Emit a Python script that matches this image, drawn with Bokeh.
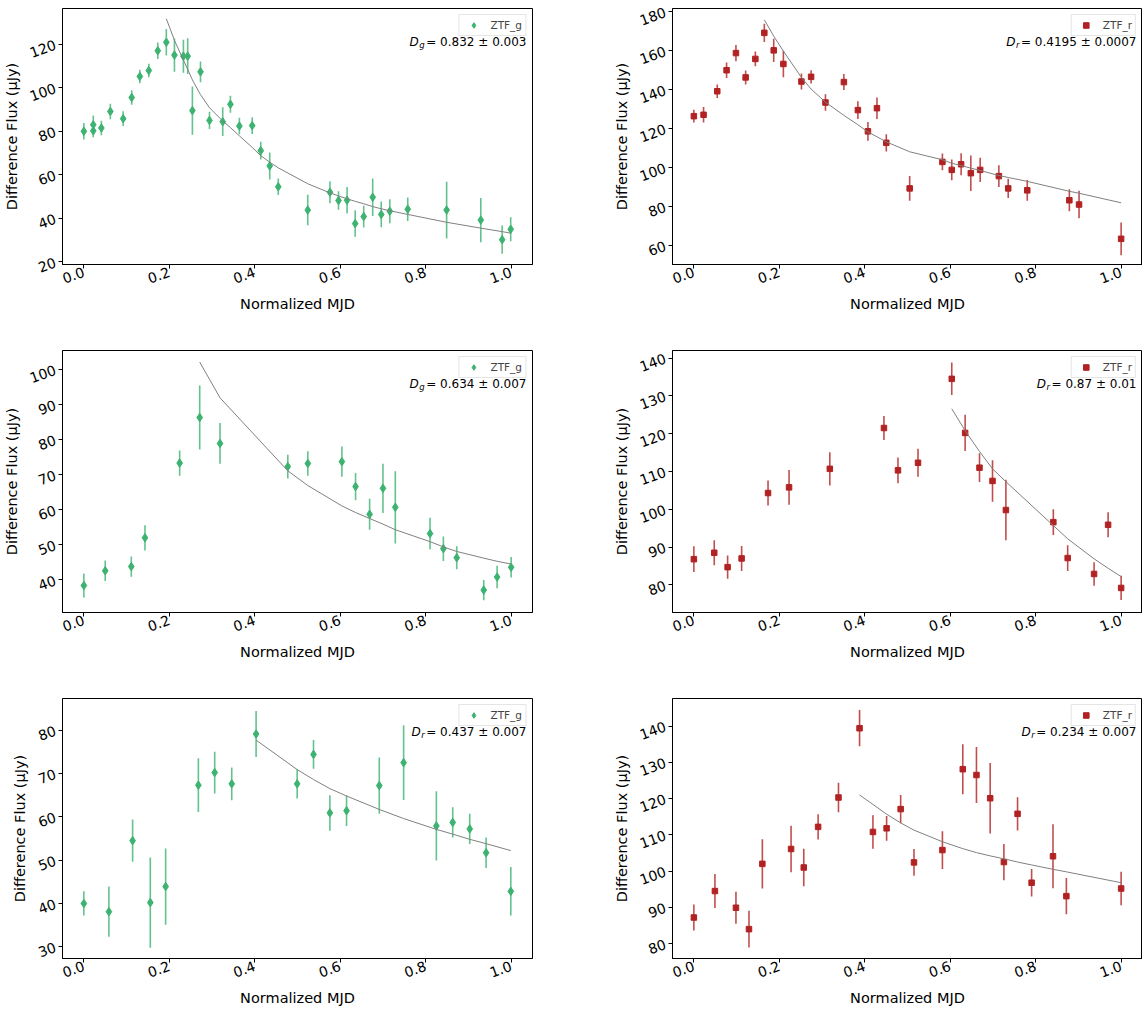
import numpy as np
from bokeh.plotting import figure
from bokeh.models import (FixedTicker, Label, Legend, LegendItem, Range1d,
                          PrintfTickFormatter)
from bokeh.layouts import column, row
from bokeh.embed import file_html
from bokeh.resources import INLINE

# ---------------- data ----------------
x_ticks = [0.0, 0.2, 0.4, 0.6, 0.8, 1.0]
x_label = "Normalized MJD"
y_label = "Difference Flux (\u03bcJy)"

# Panel 1 : ZTF_g
g1_x = [0.000, 0.022, 0.022, 0.041, 0.062, 0.092, 0.112, 0.131, 0.152, 0.173,
        0.193, 0.212, 0.233, 0.243, 0.254, 0.273, 0.294, 0.325, 0.343, 0.364,
        0.394, 0.414, 0.435, 0.455, 0.524, 0.576, 0.596, 0.616, 0.635, 0.655,
        0.676, 0.696, 0.716, 0.758, 0.849, 0.929, 0.979, 0.999]
g1_y = [80.0, 80.2, 83.0, 81.5, 89.1, 85.8, 95.5, 105.2, 107.9, 117.0,
        120.9, 115.0, 114.5, 114.5, 89.5, 107.3, 85.0, 84.4, 92.4, 82.4,
        82.6, 71.1, 64.1, 54.5, 43.8, 52.0, 48.2, 48.3, 37.6, 40.8,
        49.7, 41.8, 43.3, 44.2, 43.8, 39.2, 30.2, 35.0]
g1_err = [3.8, 3.0, 4.2, 3.3, 3.6, 3.4, 3.3, 3.1, 3.1, 3.8,
          6.1, 7.6, 7.6, 8.2, 11.1, 4.8, 4.0, 6.6, 3.9, 3.8,
          3.9, 4.1, 6.2, 3.8, 7.0, 5.1, 4.2, 6.1, 6.1, 5.0,
          8.6, 5.9, 5.5, 5.4, 13.0, 10.2, 6.5, 5.5]
g1_fit_from = 10
g1_fit = [131.7, 121.8, 112.7, 108.5, 103.6, 96.8, 90.8, 84.7, 81.7, 77.9,
          72.6, 68.8, 65.8, 63.2, 55.9, 51.7, 50.3, 49.0, 47.8, 46.7,
          45.4, 44.4, 43.5, 41.8, 38.2, 35.5, 33.9, 33.2]
g1_ticks = [20, 40, 60, 80, 100, 120]

# Panel 2 : ZTF_r
r1_x = [0.0, 0.0227, 0.0547, 0.0766, 0.0985, 0.1212, 0.1439, 0.1649, 0.1869, 0.2095,
        0.2518, 0.2744, 0.3080, 0.3511, 0.3839, 0.4074, 0.4285, 0.4504, 0.5051, 0.5817,
        0.6036, 0.6255, 0.6482, 0.6701, 0.7138, 0.7357, 0.7803, 0.8788, 0.9015, 1.0]
r1_y = [126.4, 127.1, 139.2, 150.0, 158.8, 146.3, 155.8, 169.2, 160.2, 153.2,
        144.2, 146.6, 133.4, 143.9, 129.5, 118.6, 130.5, 112.7, 89.3, 102.9,
        98.8, 101.7, 97.1, 98.8, 95.6, 89.3, 88.3, 83.2, 81.0, 63.4]
r1_err = [3.3, 4.0, 3.5, 4.0, 4.2, 3.6, 3.8, 4.7, 6.0, 6.8,
          4.1, 3.4, 4.2, 4.1, 4.6, 4.8, 5.5, 4.4, 6.4, 4.3,
          5.3, 5.7, 9.1, 6.2, 5.6, 4.9, 5.3, 5.6, 7.1, 8.4]
r1_fit_from = 7
r1_fit = [175.9, 167.5, 159.8, 146.3, 140.3, 133.6, 126.8, 122.0, 118.3, 115.8,
          113.2, 108.1, 104.0, 102.2, 101.0, 99.7, 98.5, 95.9, 94.9, 92.9,
          87.8, 86.8, 81.9]
r1_ticks = [60, 80, 100, 120, 140, 160, 180]

# Panel 3 : ZTF_g
g2_x = [0.0, 0.050, 0.111, 0.143, 0.2242, 0.2711, 0.3187, 0.4773, 0.5242, 0.6039,
        0.6359, 0.6688, 0.7000, 0.7289, 0.8102, 0.8414, 0.8727, 0.9359, 0.9672, 1.0]
g2_y = [38.4, 42.6, 43.8, 52.0, 73.3, 86.3, 78.9, 72.3, 73.2, 73.7,
        66.6, 58.7, 66.1, 60.7, 53.2, 48.9, 46.3, 37.1, 40.8, 43.6]
g2_err = [3.4, 2.9, 2.9, 3.6, 3.6, 9.1, 5.8, 3.4, 3.5, 4.3,
          3.9, 4.4, 7.0, 10.3, 4.5, 3.5, 3.3, 2.9, 3.2, 2.9]
g2_fit_from = 5
g2_fit = [102.1, 91.9, 71.1, 66.9, 61.1, 59.2, 57.5, 55.9, 54.3, 50.9,
          49.4, 48.1, 46.2, 45.3, 44.5]
g2_ticks = [40, 50, 60, 70, 80, 90, 100]

# Panel 4 : ZTF_r
r2_x = [0.0, 0.0477, 0.0790, 0.1118, 0.1736, 0.2228, 0.3182, 0.4449, 0.4777, 0.5246,
        0.6036, 0.6349, 0.6685, 0.6990, 0.7303, 0.8413, 0.8749, 0.9367, 0.9695, 1.0]
r2_y = [86.8, 88.5, 84.7, 87.0, 104.3, 105.8, 110.7, 121.5, 110.3, 112.3,
        134.5, 120.2, 111.0, 107.5, 99.8, 96.6, 87.1, 82.9, 95.9, 79.2]
r2_err = [3.4, 3.3, 3.1, 3.3, 3.3, 4.6, 4.4, 3.2, 3.4, 3.7,
          4.3, 4.8, 3.8, 5.5, 8.0, 3.4, 3.4, 3.1, 3.3, 3.2]
r2_fit_from = 10
r2_fit = [126.6, 120.8, 115.3, 110.7, 107.3, 95.7, 92.2, 86.9, 84.4, 82.2]
r2_ticks = [80, 90, 100, 110, 120, 130, 140]

# Panel 5 : ZTF_g
g3_x = [0.0, 0.0586, 0.1141, 0.1555, 0.1914, 0.2680, 0.3062, 0.3461, 0.4031, 0.4992,
        0.5375, 0.5758, 0.6148, 0.6914, 0.7484, 0.8250, 0.8633, 0.9031, 0.9414, 0.9992]
g3_y = [40.0, 38.1, 54.5, 40.2, 43.9, 67.3, 70.2, 67.6, 79.1, 67.6,
        74.4, 60.9, 61.4, 67.2, 72.5, 57.9, 58.7, 57.2, 51.7, 42.8]
g3_err = [2.8, 5.8, 4.9, 10.4, 8.8, 6.2, 4.8, 3.8, 5.3, 3.4,
          3.3, 4.1, 3.5, 6.5, 8.6, 8.0, 3.5, 3.5, 3.5, 5.6]
g3_fit_from = 8
g3_fit = [77.7, 70.9, 68.6, 66.5, 64.8, 61.7, 59.6, 57.1, 56.0, 54.8, 53.8, 52.2]
g3_ticks = [30, 40, 50, 60, 70, 80]

# Panel 6 : ZTF_r
r3_x = [0.0, 0.0493, 0.0985, 0.1290, 0.1603, 0.2275, 0.2572, 0.2908, 0.3385, 0.3878,
        0.4191, 0.4511, 0.4840, 0.5152, 0.5817, 0.6294, 0.6614, 0.6935, 0.7256, 0.7576,
        0.7905, 0.8405, 0.8718, 1.0]
r3_y = [87.2, 94.5, 89.9, 84.0, 102.0, 106.1, 101.0, 112.2, 120.3, 139.4,
        110.8, 111.8, 117.1, 102.4, 105.8, 128.1, 126.5, 120.1, 102.5, 115.8,
        96.8, 104.1, 93.1, 95.2]
r3_err = [3.6, 4.7, 4.4, 5.1, 6.8, 6.4, 5.2, 3.5, 4.1, 5.0,
          4.6, 3.4, 3.9, 3.7, 5.2, 6.9, 7.7, 9.7, 5.0, 4.6,
          3.8, 8.8, 5.0, 4.6]
r3_fit_from = 9
r3_fit = [121.0, 118.4, 115.7, 113.3, 111.3, 108.1, 106.2, 105.1, 104.2, 103.4,
          102.5, 101.7, 100.5, 99.8, 96.8]
r3_ticks = [80, 90, 100, 110, 120, 130, 140]

# annotations
ann = [("g", "0.832 \u00b1 0.003"), ("r", "0.4195 \u00b1 0.0007"),
       ("g", "0.634 \u00b1 0.007"), ("r", "0.87 \u00b1 0.01"),
       ("r", "0.437 \u00b1 0.007"), ("r", "0.234 \u00b1 0.007")]

# ---------------- styling ----------------
GREEN = "#3cb371"
RED = "#b22222"
FONT = "DejaVu Sans"
W = {c: 0.636 for c in "0123456789"}
W.update({".": 0.318, " ": 0.318, "=": 0.838, "\u00b1": 0.838,
          "g": 0.635, "r": 0.411, "D": 0.770})


def tw(s, size):
    return sum(W.get(c, 0.6) for c in s) * size


def panel(x, y, err, fit_from, fit, yticks, yrange, band, sym, val,
          width, height, bl, br, bt, bb):
    x = np.asarray(x, float)
    y = np.asarray(y, float)
    e = np.asarray(err, float)
    color = GREEN if band == "g" else RED
    p = figure(width=width, height=height, output_backend="svg",
               toolbar_location=None, x_range=Range1d(-0.05, 1.05),
               y_range=Range1d(*yrange), min_border_left=bl,
               min_border_right=br, min_border_top=bt, min_border_bottom=bb)
    p.grid.visible = False
    p.outline_line_color = "black"
    p.outline_line_alpha = 1.0
    p.outline_line_width = 1
    p.background_fill_color = "white"
    p.border_fill_color = "white"
    for ax in (p.xaxis[0], p.yaxis[0]):
        ax.axis_line_color = "black"
        ax.major_tick_line_color = "black"
        ax.major_tick_out = 4
        ax.major_tick_in = 0
        ax.minor_tick_line_color = None
        ax.major_label_text_font = FONT
        ax.major_label_text_font_size = "14px"
        ax.major_label_text_color = "black"
        ax.major_label_orientation = 0.35
        ax.major_label_standoff = 3
        ax.axis_label_text_font = FONT
        ax.axis_label_text_font_size = "14.5px"
        ax.axis_label_text_font_style = "normal"
        ax.axis_label_text_color = "black"
        ax.axis_label_standoff = 4
    p.xaxis.ticker = FixedTicker(ticks=x_ticks)
    p.xaxis.formatter = PrintfTickFormatter(format="%.1f")
    p.yaxis.ticker = FixedTicker(ticks=yticks)
    p.yaxis.formatter = PrintfTickFormatter(format="%d")
    p.xaxis.axis_label = x_label
    p.yaxis.axis_label = y_label

    p.segment(x0=x, y0=y - e, x1=x, y1=y + e, line_color=color,
              line_width=1.6, line_alpha=0.8)
    if band == "g":
        sc = p.scatter(x, y, marker="diamond", size=8.5, fill_color=color,
                       line_color=color)
    else:
        sc = p.scatter(x, y, marker="square", size=5.5, fill_color=color,
                       line_color=color)
    p.line(x[fit_from:], fit, line_color="#808080", line_width=1)

    legend = Legend(items=[LegendItem(label="ZTF_" + band, renderers=[sc])],
                    location="top_right", label_text_font=FONT,
                    label_text_font_size="10.5px", glyph_width=22,
                    glyph_height=14, padding=3, label_standoff=6, margin=6,
                    border_line_color="#cccccc", border_line_width=1,
                    background_fill_alpha=0.8, spacing=0)
    p.add_layout(legend)

    # annotation  D_band = val
    right = "= " + val
    fs = 12
    wr = tw(right, fs)
    ws = tw(sym, 8.5)
    common = dict(x=1.05, y=yrange[1], text_font=FONT, text_color="black",
                  text_align="right", text_baseline="middle")
    p.add_layout(Label(text=right, x_offset=-6, y_offset=-33,
                       text_font_size="12px", **common))
    p.add_layout(Label(text=sym, x_offset=-6 - wr - 1.5, y_offset=-36,
                       text_font_size="8.5px", text_font_style="italic", **common))
    p.add_layout(Label(text="D", x_offset=-6 - wr - 2 - ws, y_offset=-33,
                       text_font_size="12px", text_font_style="italic", **common))
    return p


H = [348, 348, 312]
BT = [8, 2, 2]
BB = [84, 84, 50]

specs = [
    (g1_x, g1_y, g1_err, g1_fit_from, g1_fit, g1_ticks, (18.8, 136.4), "g"),
    (r1_x, r1_y, r1_err, r1_fit_from, r1_fit, r1_ticks, (50.2, 181.7), "r"),
    (g2_x, g2_y, g2_err, g2_fit_from, g2_fit, g2_ticks, (30.7, 105.4), "g"),
    (r2_x, r2_y, r2_err, r2_fit_from, r2_fit, r2_ticks, (72.7, 142.0), "r"),
    (g3_x, g3_y, g3_err, g3_fit_from, g3_fit, g3_ticks, (27.3, 87.3), "g"),
    (r3_x, r3_y, r3_err, r3_fit_from, r3_fit, r3_ticks, (75.9, 147.6), "r"),
]

plots = []
for i, s in enumerate(specs):
    r_i, c_i = divmod(i, 2)
    sym, val = ann[i]
    if c_i == 0:
        bl, br, w = 62, 39, 571
    else:
        bl, br, w = 101, 0, 571
    plots.append(panel(*s, sym, val, w, H[r_i], bl, br, BT[r_i], BB[r_i]))

layout = column(row(plots[0], plots[1]), row(plots[2], plots[3]),
                row(plots[4], plots[5]))

open("out.html", "w").write(file_html(layout, INLINE))
